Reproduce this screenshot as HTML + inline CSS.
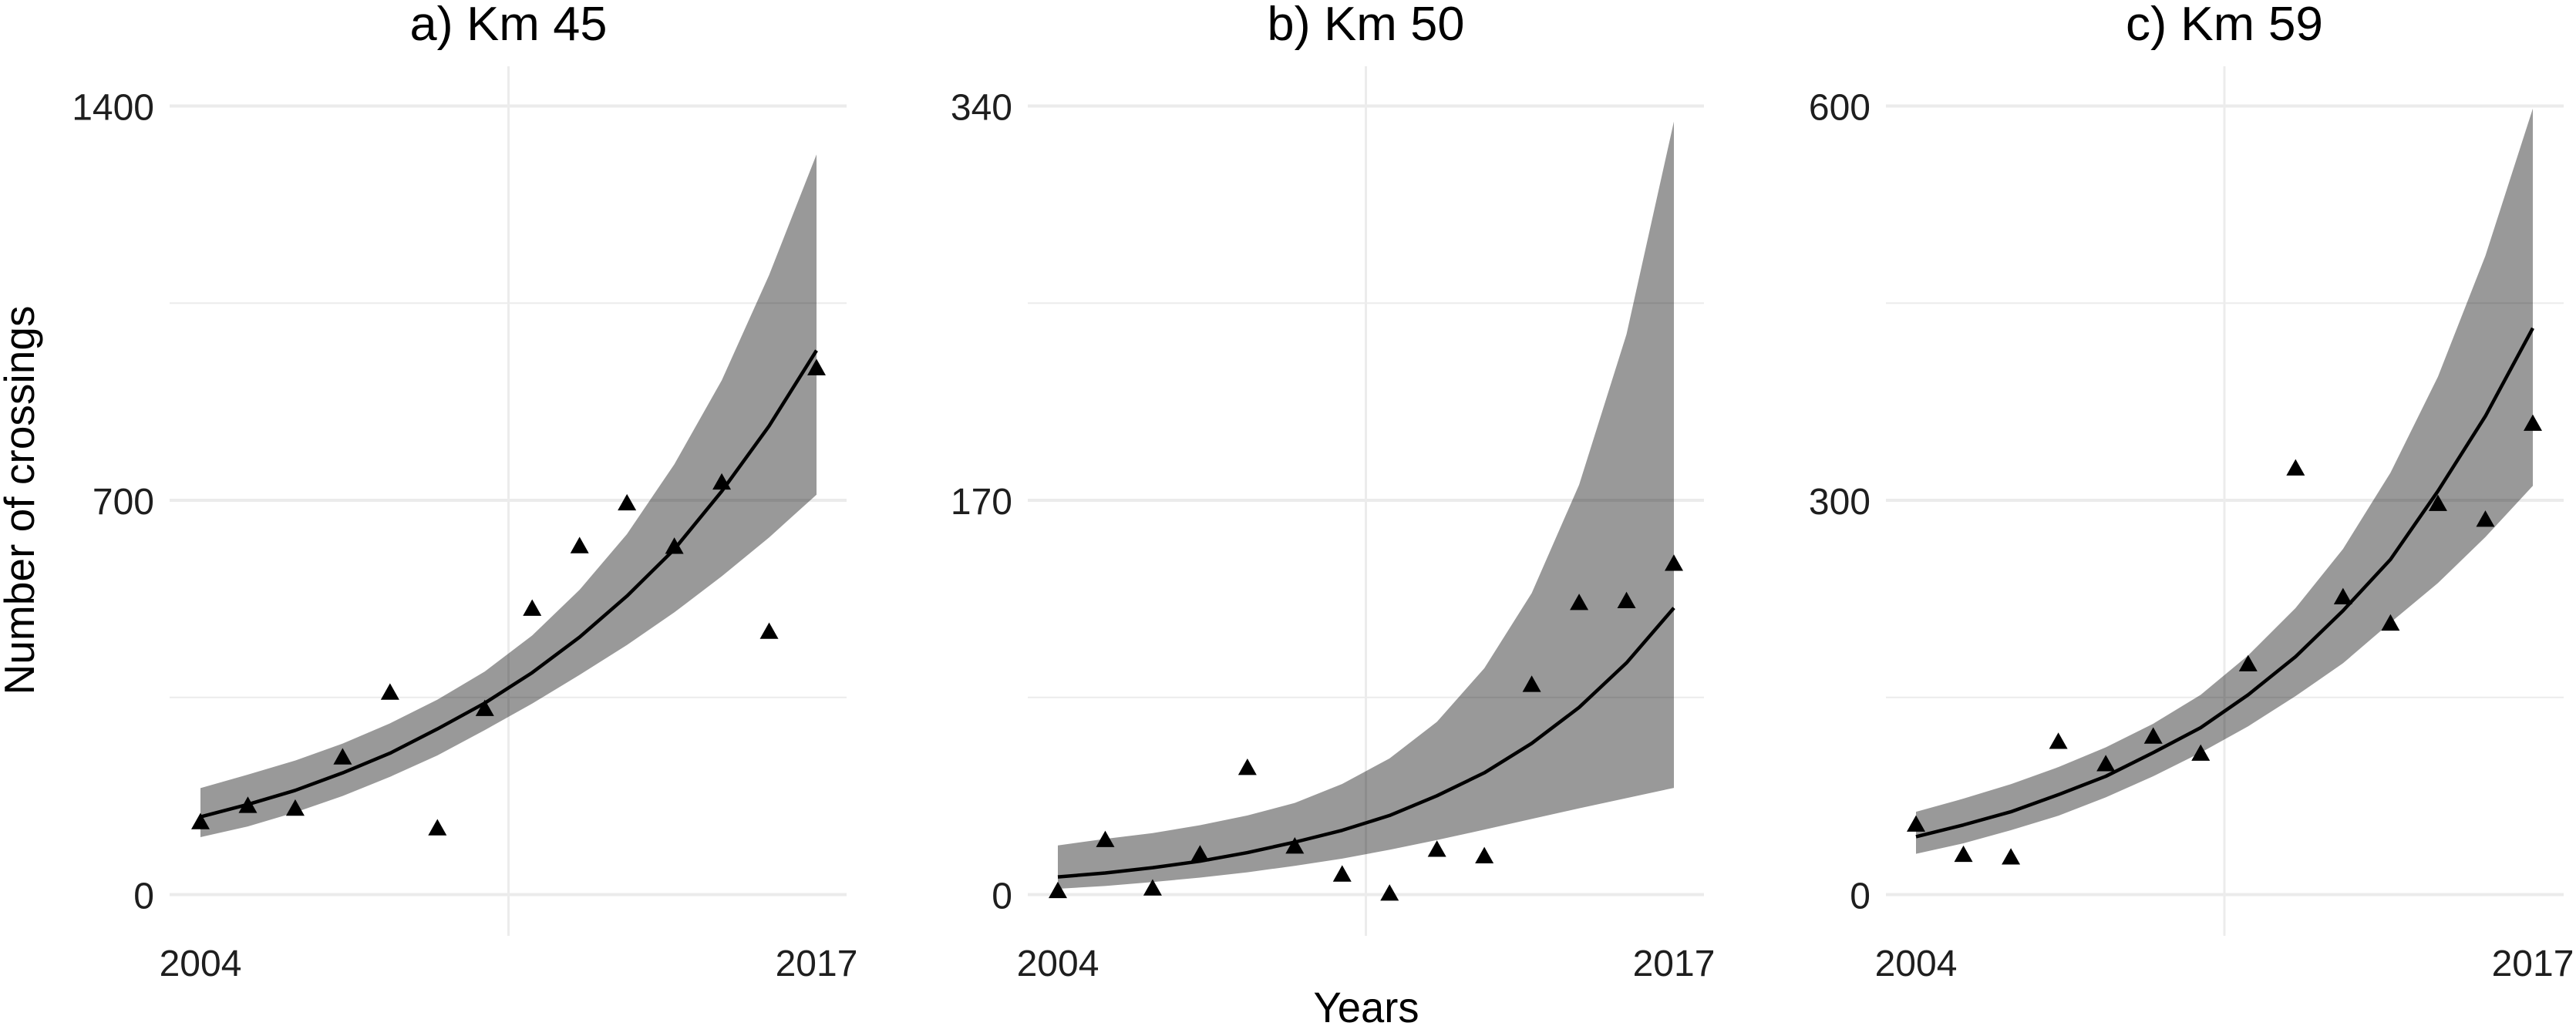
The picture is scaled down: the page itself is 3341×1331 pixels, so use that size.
<!DOCTYPE html>
<html lang="en">
<head>
<meta charset="utf-8">
<title>Number of crossings by year</title>
<style>
html,body{margin:0;padding:0;background:#fff;width:3341px;height:1331px;overflow:hidden}
svg{display:block;font-family:"Liberation Sans",sans-serif}
</style>
</head>
<body>
<svg id="chart" xmlns="http://www.w3.org/2000/svg" width="3341" height="1331" viewBox="0 0 3341 1331">
<rect x="0" y="0" width="3341" height="1331" fill="#ffffff"/>
<text transform="translate(44,649) rotate(-90)" text-anchor="middle" font-size="55" textLength="505" lengthAdjust="spacingAndGlyphs" fill="#000">Number of crossings</text>
<text x="1772" y="1326" text-anchor="middle" font-size="56" textLength="137" lengthAdjust="spacingAndGlyphs" fill="#000">Years</text>
</svg>
<script>
const years = [2004,2005,2006,2007,2008,2009,2010,2011,2012,2013,2014,2015,2016,2017];
const xTickLabels = [2004,2017];

const titleA = "a) Km 45";
const yTicksA = [0,700,1400];
const meanA = [138,160,185,216,251,294,340,394,457,530,613,716,832,966];
const upperA = [189,213,238,268,304,346,396,460,541,640,764,913,1100,1314];
const lowerA = [102,121,146,175,209,247,292,339,390,443,501,565,634,710];
const observedA = [128,157,152,243,358,117,329,507,618,694,617,731,466,934];

const titleB = "b) Km 50";
const yTicksB = [0,170,340];
const meanB = [7.6,9.3,11.6,14.4,18.1,22.6,27.7,34.1,42.6,52.5,65.2,80.7,99.9,123.6];
const upperB = [21.2,24,26.5,29.9,34.1,39.5,47.7,58.7,74.5,97.6,130,176.7,241.6,333.3];
const lowerB = [2.5,3.7,5.4,7.3,9.6,12.4,15.5,19.3,23.5,28,32.6,37.2,41.6,46];
const observedB = [1.4,23.4,2.5,17.2,54.5,20.6,8.5,0.3,19.2,16.4,90.3,125.6,126.4,142.5];

const titleC = "c) Km 59";
const yTicksC = [0,300,600];
const meanC = [44,53,63,76,90,108,127,152,181,216,255,307,364,431];
const upperC = [63,73,84,97,112,130,152,182,218,263,321,394,486,598];
const lowerC = [31,39,49,60,74,90,108,128,151,176,207,237,272,311];
const observedC = [53,30,28,116,99,120,107,175,324,226,206,297,285,358];

const NS = "http://www.w3.org/2000/svg";
const svg = document.getElementById("chart");

function make(parent, tag, attrs, text) {
  const el = document.createElementNS(NS, tag);
  for (const k in attrs) el.setAttribute(k, attrs[k]);
  if (text !== undefined) el.textContent = text;
  parent.appendChild(el);
  return el;
}

function drawPanel(key, box, title, yTicks, mean, upper, lower, observed) {
  const firstYear = years[0];
  const lastYear = years[years.length - 1];
  const yMax = yTicks[yTicks.length - 1];
  const xScale = v => box.x0 + (v - firstYear) / (lastYear - firstYear) * (box.x1 - box.x0);
  const yScale = v => 1160.5 - v / yMax * 1023;
  const midYear = (firstYear + lastYear) / 2;

  const g = make(svg, "g", {});
  
  

  const t = make(g, "text", {x: xScale(midYear), y: 52, "text-anchor": "middle", "font-size": 62, textLength: 256, lengthAdjust: "spacingAndGlyphs", fill: "#000"}, title);
  
  

  // minor horizontal gridlines between the major ticks
  for (let i = 0; i < yTicks.length - 1; i++) {
    const v = (yTicks[i] + yTicks[i + 1]) / 2;
    const minor = make(g, "line", {x1: box.left, x2: box.right, y1: yScale(v), y2: yScale(v), stroke: "#ececec", "stroke-width": 2});
    
    
  }
  // major horizontal gridlines and tick labels
  yTicks.forEach(v => {
    const major = make(g, "line", {x1: box.left, x2: box.right, y1: yScale(v), y2: yScale(v), stroke: "#ebebeb", "stroke-width": 4});
    
    
    const label = make(g, "text", {x: box.left - 20, y: yScale(v) + 18, "text-anchor": "end", "font-size": 48, fill: "#1e1e1e"}, v);
    
    
  });
  // vertical gridline at the middle of the time range
  const vGrid = make(g, "line", {x1: xScale(midYear), x2: xScale(midYear), y1: 86, y2: 1214, stroke: "#ececec", "stroke-width": 3});
  
  

  xTickLabels.forEach(v => {
    const label = make(g, "text", {x: xScale(v), y: 1266, "text-anchor": "middle", "font-size": 48, fill: "#1e1e1e"}, v);
    
    
  });

  // confidence band
  const upperPts = years.map((yr, i) => xScale(yr) + "," + yScale(upper[i]));
  const lowerPts = years.map((yr, i) => xScale(yr) + "," + yScale(lower[i])).reverse();
  const band = make(g, "polygon", {points: upperPts.concat(lowerPts).join(" "), fill: "#000", "fill-opacity": 0.4});
  
  

  // fitted mean line
  const linePts = years.map((yr, i) => xScale(yr) + "," + yScale(mean[i])).join(" ");
  const line = make(g, "polyline", {points: linePts, fill: "none", stroke: "#000", "stroke-width": 4.5, "stroke-linejoin": "round"});
  
  

  // observed values
  years.forEach((yr, i) => {
    const cx = xScale(yr);
    const cy = yScale(observed[i]);
    const tri = make(g, "polygon", {points: cx + "," + (cy - 12.5) + " " + (cx + 12) + "," + (cy + 8.8) + " " + (cx - 12) + "," + (cy + 8.8), fill: "#000"});
    
    
  });
}

drawPanel("a", {x0: 260, x1: 1059, left: 220, right: 1098}, titleA, yTicksA, meanA, upperA, lowerA, observedA);
drawPanel("b", {x0: 1372, x1: 2171, left: 1333, right: 2210}, titleB, yTicksB, meanB, upperB, lowerB, observedB);
drawPanel("c", {x0: 2485, x1: 3285, left: 2446, right: 3325}, titleC, yTicksC, meanC, upperC, lowerC, observedC);
</script>
</body>
</html>
